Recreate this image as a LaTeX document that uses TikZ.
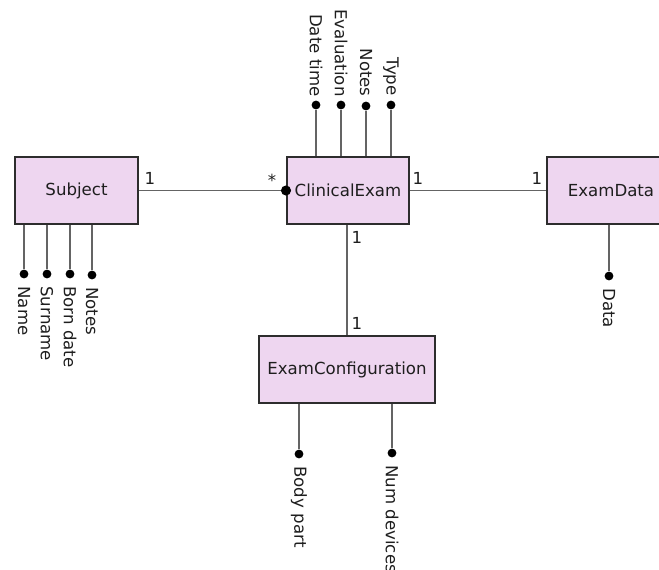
\documentclass[tikz,border=0pt]{standalone}
\usepackage{fontspec}
\setmainfont{DejaVu Sans}
\usetikzlibrary{arrows.meta, positioning}

\definecolor{entfill}{RGB}{238,214,240}
\definecolor{entdraw}{RGB}{45,45,45}
\definecolor{linkgray}{RGB}{100,100,100}
\definecolor{txt}{RGB}{30,30,30}

\begin{document}
\begin{tikzpicture}[x=0.5pt, y=-0.5pt,
            every node/.style={text=txt, font=\fontsize{8.3}{10}\selectfont},
            entity/.style={rectangle, draw=entdraw, fill=entfill, line width=1pt, minimum height=33.5pt},
            attr/.style={circle, fill=black, inner sep=0pt, minimum size=4.4pt},
            attrname/.style={rotate=-90, inner sep=0pt},
            link/.style={draw=linkgray, line width=0.75pt},
            mult/.style={inner sep=0pt},
            >={Circle[length=5pt, width=5pt, color=black, fill=black]}]

        \useasboundingbox (0,0) rectangle (659,569);

        % entities
        \node[entity, minimum width=61.5pt] (subject) at (76.5,190.5) {Subject};
        \node[entity, minimum width=61pt] (exam) at (348,190.5) {ClinicalExam};
        \node[entity, minimum width=64pt] (data) at (611,190.5) {ExamData};
        \node[entity, minimum width=88pt] (config) at (347,369.5) {ExamConfiguration};

        % relations
        \draw[link, ->, shorten >=-2.5pt] (subject) -- (exam);
        \draw[link] (exam) -- (data);
        \draw[link] (config.north |- exam.south) -- (config.north);

        \node[mult] (m1) at (150,178) {1};
        \node[mult] (m2) at (272,180) {*};
        \node[mult] (m3) at (418,178) {1};
        \node[mult] (m4) at (537,178) {1};
        \node[mult] (m5) at (357,237) {1};
        \node[mult] (m6) at (357,323) {1};

        % Subject attributes
        \node[attr] (name) at (24,274) {};
        \node[attr] (surname) at (47,274) {};
        \node[attr] (born) at (70,274) {};
        \node[attr] (snotes) at (92,275) {};
        \draw[link] (subject.south -| name) -- (name);
        \draw[link] (subject.south -| surname) -- (surname);
        \draw[link] (subject.south -| born) -- (born);
        \draw[link] (subject.south -| snotes) -- (snotes);
        \node[attrname, anchor=west] (namel) at (24,286) {Name};
        \node[attrname, anchor=west] (surnamel) at (47,286) {Surname};
        \node[attrname, anchor=west] (bornl) at (70,286) {Born date};
        \node[attrname, anchor=west] (snotesl) at (92,287) {Notes};

        % ClinicalExam attributes
        \node[attr] (datetime) at (316,105) {};
        \node[attr] (evaluation) at (341,105) {};
        \node[attr] (enotes) at (366,106) {};
        \node[attr] (type) at (391,105) {};
        \draw[link] (exam.north -| datetime) -- (datetime);
        \draw[link] (exam.north -| evaluation) -- (evaluation);
        \draw[link] (exam.north -| enotes) -- (enotes);
        \draw[link] (exam.north -| type) -- (type);
        \node[attrname, anchor=east] (datetimel) at (316,97) {Date time};
        \node[attrname, anchor=east] (evaluationl) at (341,97) {Evaluation};
        \node[attrname, anchor=east] (enotesl) at (366,97) {Notes};
        \node[attrname, anchor=east] (typel) at (391,96) {Type};

        % ExamData attributes
        \node[attr] (dat) at (609,276) {};
        \draw[link] (data.south -| dat) -- (dat);
        \node[attrname, anchor=west] (datl) at (609,288) {Data};

        % ExamConfiguration attributes
        \node[attr] (body) at (299,454) {};
        \node[attr] (devices) at (392,453) {};
        \draw[link] (config.south -| body) -- (body);
        \draw[link] (config.south -| devices) -- (devices);
        \node[attrname, anchor=west] (bodyl) at (299,466) {Body part};
        \node[attrname, anchor=west] (devicesl) at (392,465) {Num devices};

    \end{tikzpicture}
\end{document}
